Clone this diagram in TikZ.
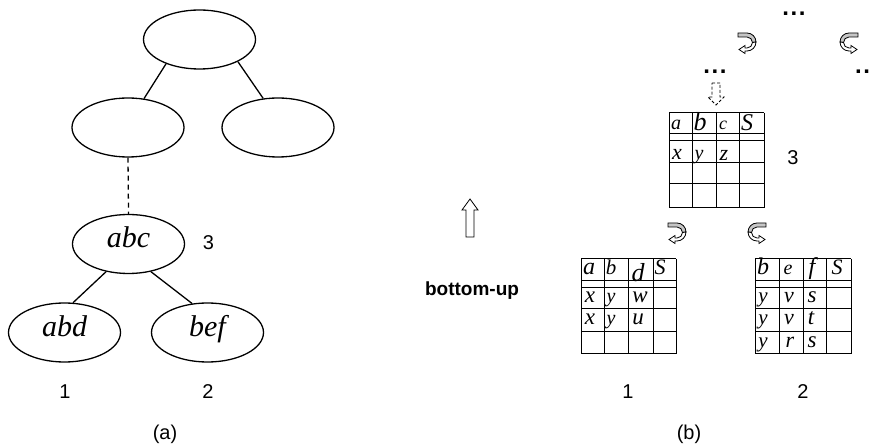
\documentclass[tikz,border=0pt]{standalone}
\usepackage{fontspec}
\setmainfont{Liberation Serif}
\setsansfont{Liberation Sans}
\usetikzlibrary{shapes.geometric}

\tikzset{
  treenode/.style={ellipse, draw, line width=1.3pt, minimum width=112pt,
    minimum height=59pt, inner sep=0pt, text height=10pt, text depth=2pt,
    font=\fontsize{30}{30}\selectfont\itshape},
  treeedge/.style={line width=1.3pt},
  numlab/.style={font=\sffamily\fontsize{20}{20}\selectfont, inner sep=0pt},
  cellt/.style={anchor=base, inner sep=0pt, font=\itshape},
  tabline/.style={line width=1pt},
  dots/.style={font=\sffamily\bfseries\fontsize{24}{24}\selectfont, inner sep=0pt},
  blockarrow/.style={draw, line width=0.8pt, fill=white},
  turnarrow/.pic={
    % shaded upper band of the turning ribbon
    \filldraw[gray!45, draw=black, line width=0.8pt]
      (0,0) -- (9,0) arc[start angle=-90, end angle=0, radius=9]
      -- (14.5,9.5) arc[start angle=0, end angle=-90, radius=5.5]
      -- (0,4) -- cycle;
    % lower return band ending in the head
    \filldraw[fill=white, draw=black, line width=0.8pt]
      (18,9) arc[start angle=0, end angle=90, radius=9]
      -- (7,18) -- (7,20.5) -- (1,16.5) -- (7,12.5) -- (7,15) -- (9,15)
      arc[start angle=90, end angle=0, radius=5.5] -- cycle;
  }
}

\newcommand\tcell[5]{\node[cellt] (#1) at (#2,#3) {\fontsize{#4}{#4}\selectfont #5};}
\newcommand\dotrow{.\kern1.6pt.\kern1.6pt.}

\begin{document}
\begin{tikzpicture}[x=1pt,y=-1pt]
\useasboundingbox (0,0) rectangle (873,446);

% ---- (a) tree ----
\node[treenode] (root) at (199.5,39.5) {};
\node[treenode] (mid)  at (128,127.5) {};
\node[treenode] (rgt)  at (278,127.5) {};
\node[treenode] (abc)  at (128.5,244) {abc};
\node[treenode] (abd)  at (64.5,332.5) {abd};
\node[treenode] (bef)  at (207.5,332.5) {bef};

\draw[treeedge] (root.216) -- (mid.61);
\draw[treeedge] (root.330) -- (rgt.117);
\draw[treeedge, dash pattern=on 5pt off 4pt] (mid.south) -- (abc.north);
\draw[treeedge] (abc.231) -- (abd.74);
\draw[treeedge] (abc.309) -- (bef.118);

\node[numlab] (n3)   at (208.5,242.5) {3};
\node[numlab] (n1)   at (65,392) {1};
\node[numlab] (n2)   at (208,392) {2};
\node[numlab] (capa) at (165,434) {(a)};

% ---- bottom-up marker ----
\draw[blockarrow] (466,237) -- (466,210) -- (462,210) -- (470,199)
  -- (478,210) -- (474,210) -- (474,237) -- cycle;
\node[font=\sffamily\bfseries\fontsize{19}{19}\selectfont, inner sep=0pt]
  (bu) at (472,291) {bottom-up};

% ---- (b) tables ----
% upper table
\foreach \y in {113,134,141,163,184,208} \draw[tabline] (669,\y) -- (764,\y);
\foreach \x in {669,692,716,739,764} \draw[tabline] (\x,113) -- (\x,208);
\tcell{ta}{676}{130}{20}{a}
\tcell{tb}{700}{131}{26}{b}
\tcell{tc}{723}{130}{18}{c}
\tcell{tS}{747}{131}{24}{S}
\tcell{tx}{677}{160}{22}{x}
\tcell{ty}{699}{160}{20}{y}
\tcell{tz}{724}{161}{22}{z}
\node[numlab] (t3) at (793,158) {3};

% lower left table
\foreach \y in {259,281,288,309,332,354} \draw[tabline] (581,\y) -- (676,\y);
\foreach \x in {581,604,628,653,676} \draw[tabline] (\x,259) -- (\x,354);
\tcell{la}{589}{275}{24}{a}
\tcell{lb}{611}{275}{21}{b}
\tcell{ld}{638}{282}{26}{d}
\tcell{lS}{660}{275}{22}{S}
\tcell{lx1}{590}{303}{23}{x}
\tcell{ly1}{611}{303}{20}{y}
\tcell{lw}{640}{303}{23}{w}
\tcell{lx2}{590}{325}{23}{x}
\tcell{ly2}{611}{325}{20}{y}
\tcell{lu}{638}{325}{23}{u}
\node[numlab] (l1) at (628,392) {1};

% lower right table
\foreach \y in {259,281,288,309,332,354} \draw[tabline] (755,\y) -- (851,\y);
\foreach \x in {755,779,803,826,851} \draw[tabline] (\x,259) -- (\x,354);
\tcell{rb}{763}{275}{24}{b}
\tcell{re}{788}{275}{20}{e}
\tcell{rf}{812}{275}{24}{f}
\tcell{rS}{837}{275}{22}{S}
\tcell{ry1}{763}{303}{21}{y}
\tcell{rv1}{789}{303}{22}{v}
\tcell{rs1}{812}{303}{23}{s}
\tcell{ry2}{763}{325}{21}{y}
\tcell{rv2}{789}{325}{22}{v}
\tcell{rt}{811}{325}{23}{t}
\tcell{ry3}{763}{348}{21}{y}
\tcell{rr}{790}{348}{22}{r}
\tcell{rs3}{812}{348}{23}{s}
\node[numlab] (r2) at (803,392) {2};

% ---- turning arrows and continuation marks ----
\path (738,33) pic {turnarrow};
\path (858,33) pic[xscale=-1] {turnarrow};
\path (668,223) pic {turnarrow};
\path (766,223) pic[xscale=-1] {turnarrow};

\draw[line width=0.8pt, dash pattern=on 3pt off 2pt]
  (712,83) -- (720,83) -- (720,97) -- (724,97) -- (716,105) -- (708,97) -- (712,97) -- cycle;

\node[dots] (dtop)   at (794,14) {\dotrow};
\node[dots] (dleft)  at (715,72) {\dotrow};
\node[dots, anchor=west] (dright) at (855,72) {\dotrow};

\node[numlab] (capb) at (689,434) {(b)};
\end{tikzpicture}
\end{document}
